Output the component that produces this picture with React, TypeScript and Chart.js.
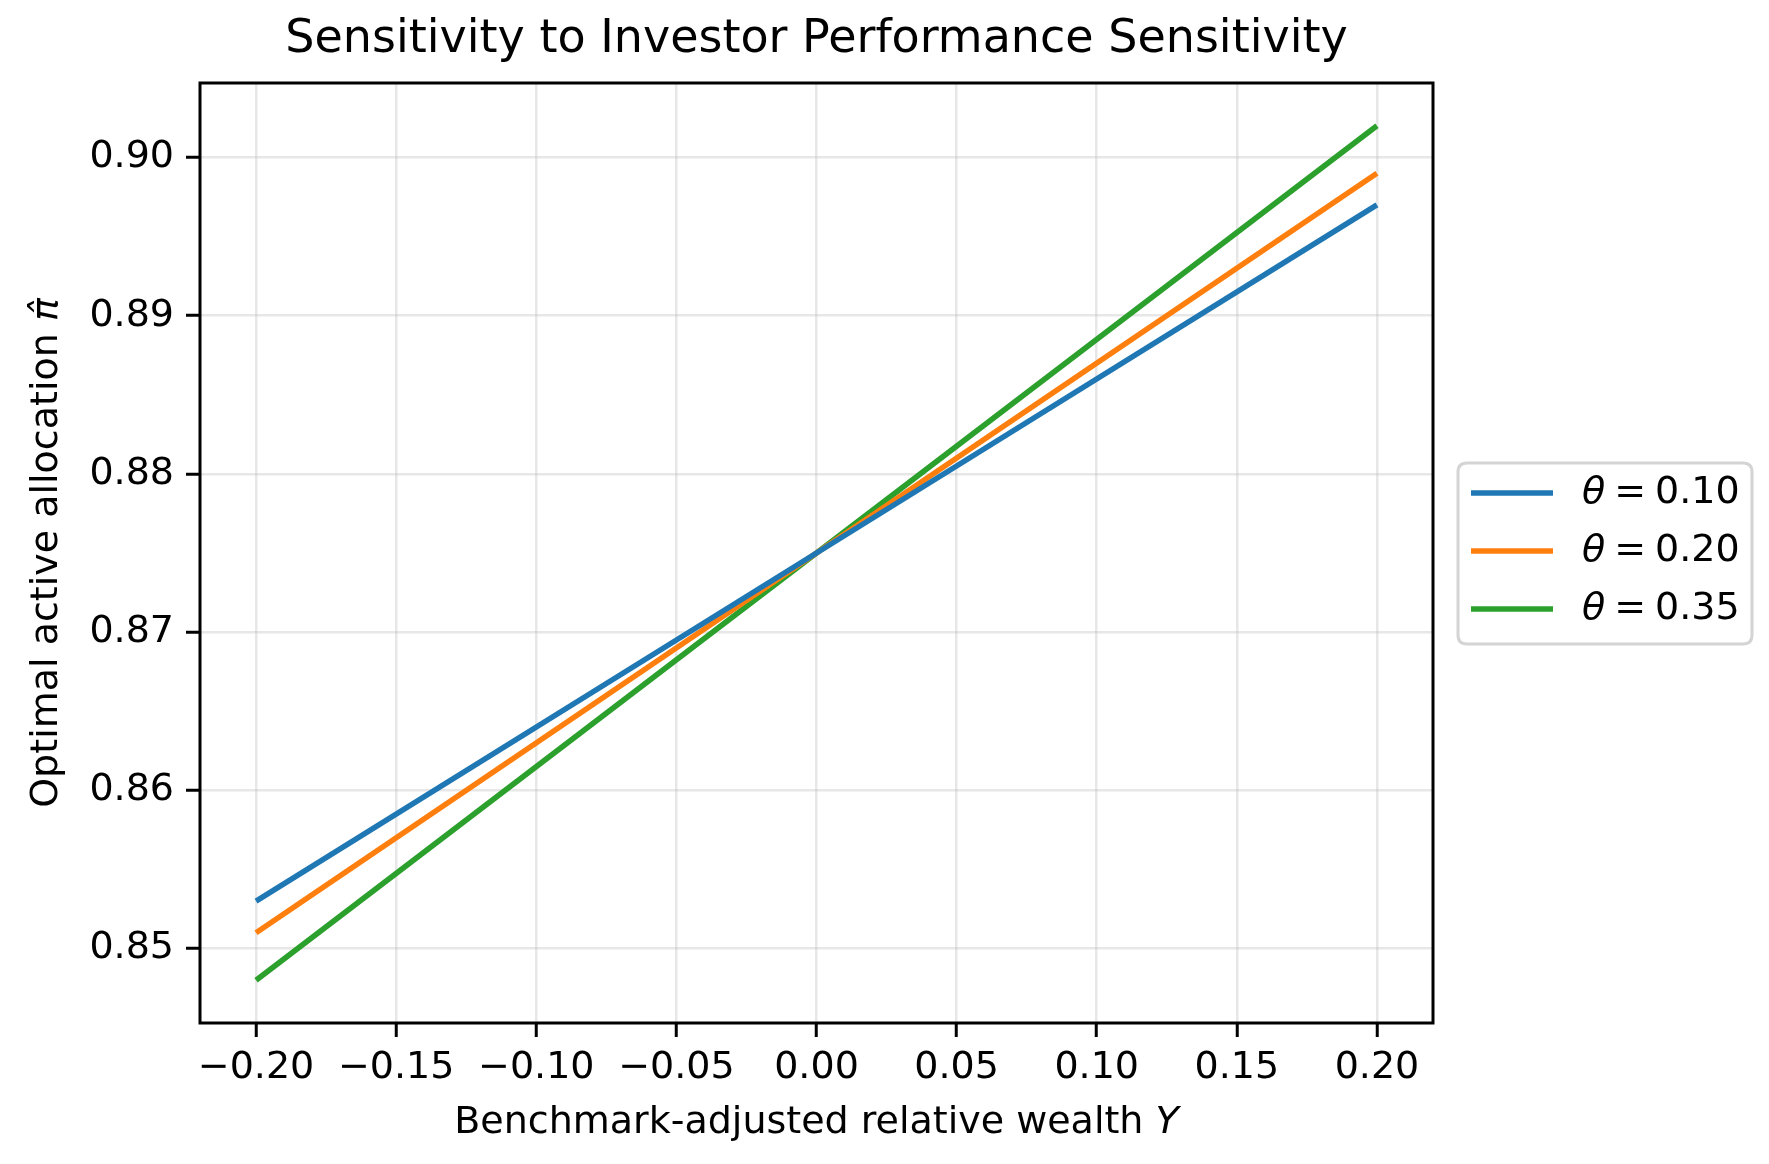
import React, { useEffect, useRef } from "react";
import { Chart, registerables } from "chart.js";

Chart.register(...registerables);

const TITLE = "Sensitivity to Investor Performance Sensitivity";
const X_LABEL = "Benchmark-adjusted relative wealth ";
const X_LABEL_VAR = "Y";
const Y_LABEL = "Optimal active allocation ";
const Y_LABEL_VAR = "\u03C0\u0302";

const Y_VALUES = [-0.2, 0.0, 0.2];
const THETA_LABELS = ["0.10", "0.20", "0.35"];
const SERIES_010 = [0.853, 0.875, 0.897];
const SERIES_020 = [0.851, 0.875, 0.899];
const SERIES_035 = [0.848, 0.875, 0.902];
const COLORS = ["#1f77b4", "#ff7f0e", "#2ca02c"];

const X_TICKS = [-0.2, -0.15, -0.1, -0.05, 0, 0.05, 0.1, 0.15, 0.2];
const Y_TICKS = [0.85, 0.86, 0.87, 0.88, 0.89, 0.9];

const FONT = '"DejaVu Sans", sans-serif';

function fmt(v: number) {
  const s = Math.abs(v).toFixed(2);
  return v < -1e-9 ? "\u2212" + s : s;
}

function drawMixed(ctx: CanvasRenderingContext2D, parts: { t: string; it: boolean }[], cx: number, cy: number, size: number) {
  let total = 0;
  const widths = parts.map((p) => {
    ctx.font = `${p.it ? "italic " : ""}${size}px ${FONT}`;
    const w = ctx.measureText(p.t).width;
    total += w;
    return w;
  });
  let x = cx - total / 2;
  ctx.textAlign = "left";
  ctx.textBaseline = "middle";
  parts.forEach((p, i) => {
    ctx.font = `${p.it ? "italic " : ""}${size}px ${FONT}`;
    ctx.fillText(p.t, x, cy);
    x += widths[i];
  });
}

const decor = {
  id: "decor",
  afterDraw(chart: any) {
    const { ctx } = chart;
    const { left, right, top, bottom } = chart.chartArea;
    ctx.save();
    ctx.strokeStyle = "#000";
    ctx.lineWidth = 3;
    ctx.strokeRect(left, top, right - left, bottom - top);

    ctx.fillStyle = "#000";
    ctx.font = `46px ${FONT}`;
    ctx.textAlign = "center";
    ctx.textBaseline = "middle";
    ctx.fillText(TITLE, (left + right) / 2, 40);

    drawMixed(ctx, [{ t: X_LABEL, it: false }, { t: X_LABEL_VAR, it: true }], (left + right) / 2, 1123, 38);

    ctx.save();
    ctx.translate(47, (top + bottom) / 2);
    ctx.rotate(-Math.PI / 2);
    drawMixed(ctx, [{ t: Y_LABEL, it: false }, { t: Y_LABEL_VAR, it: true }], 0, 0, 38);
    ctx.restore();

    // legend
    const bx = 1458, by = 463, bw = 294, bh = 181, r = 9;
    ctx.beginPath();
    ctx.moveTo(bx + r, by);
    ctx.lineTo(bx + bw - r, by);
    ctx.quadraticCurveTo(bx + bw, by, bx + bw, by + r);
    ctx.lineTo(bx + bw, by + bh - r);
    ctx.quadraticCurveTo(bx + bw, by + bh, bx + bw - r, by + bh);
    ctx.lineTo(bx + r, by + bh);
    ctx.quadraticCurveTo(bx, by + bh, bx, by + bh - r);
    ctx.lineTo(bx, by + r);
    ctx.quadraticCurveTo(bx, by, bx + r, by);
    ctx.closePath();
    ctx.fillStyle = "rgba(255,255,255,0.8)";
    ctx.fill();
    ctx.strokeStyle = "#d4d4d4";
    ctx.lineWidth = 3;
    ctx.stroke();

    const rows = [493, 551, 609];
    THETA_LABELS.forEach((lab, i) => {
      const y = rows[i];
      ctx.strokeStyle = COLORS[i];
      ctx.lineWidth = 5.5;
      ctx.beginPath();
      ctx.moveTo(1471, y);
      ctx.lineTo(1553, y);
      ctx.stroke();
      ctx.fillStyle = "#000";
      ctx.textAlign = "left";
      ctx.textBaseline = "middle";
      ctx.font = `italic 38px ${FONT}`;
      const tw = ctx.measureText("\u03B8").width;
      ctx.fillText("\u03B8", 1582, y);
      ctx.font = `38px ${FONT}`;
      const eqX = 1582 + tw + 9;
      ctx.fillText("=", eqX, y);
      const ew = ctx.measureText("=").width;
      ctx.fillText(lab, eqX + ew + 9, y);
    });
    ctx.restore();
  },
};

export default function App() {
  const ref = useRef<HTMLCanvasElement | null>(null);
  useEffect(() => {
    document.body.style.margin = "0";
    const canvas = ref.current!;
    const seriesList = [SERIES_010, SERIES_020, SERIES_035];
    const chart = new Chart(canvas, {
      type: "scatter",
      data: {
        datasets: seriesList.map((s, i) => ({
          label: "\u03B8 = " + THETA_LABELS[i],
          data: Y_VALUES.map((x, j) => ({ x, y: s[j] })),
          showLine: true,
          borderColor: COLORS[i],
          backgroundColor: COLORS[i],
          borderWidth: 5.5,
          pointRadius: 0,
          pointHoverRadius: 0,
          tension: 0,
        })),
      },
      options: {
        animation: false,
        responsive: false,
        devicePixelRatio: 1,
        events: [],
        layout: { padding: { left: 0, top: 83, right: 336, bottom: 0 } },
        plugins: { legend: { display: false }, tooltip: { enabled: false }, title: { display: false } },
        scales: {
          x: {
            type: "linear",
            min: -0.22,
            max: 0.22,
            afterBuildTicks: (axis: any) => {
              axis.ticks = X_TICKS.map((v) => ({ value: v }));
            },
            afterFit: (scale: any) => {
              scale.height = 141;
            },
            ticks: {
              callback: (v: any) => fmt(Number(v)),
              color: "#000",
              font: { family: FONT, size: 38 },
              padding: 8,
              maxRotation: 0,
              minRotation: 0,
              autoSkip: false,
            },
            grid: {
              color: "rgba(176,176,176,0.3)",
              lineWidth: 2.5,
              tickColor: "#000",
              tickLength: 14,
              tickWidth: 3,
            },
            border: { display: false },
          },
          y: {
            type: "linear",
            min: 0.8453,
            max: 0.9047,
            afterBuildTicks: (axis: any) => {
              axis.ticks = Y_TICKS.map((v) => ({ value: v }));
            },
            afterFit: (scale: any) => {
              scale.width = 200;
            },
            ticks: {
              callback: (v: any) => Number(v).toFixed(2),
              color: "#000",
              font: { family: FONT, size: 38 },
              padding: 12,
              autoSkip: false,
            },
            grid: {
              color: "rgba(176,176,176,0.3)",
              lineWidth: 2.5,
              tickColor: "#000",
              tickLength: 14,
              tickWidth: 3,
            },
            border: { display: false },
          },
        },
      },
      plugins: [decor],
    } as any);
    return () => chart.destroy();
  }, []);
  return (
    <div style={{ width: 1769, height: 1164, background: "#fff" }}>
      <canvas ref={ref} width={1769} height={1164} style={{ width: 1769, height: 1164, display: "block" }} />
    </div>
  );
}
